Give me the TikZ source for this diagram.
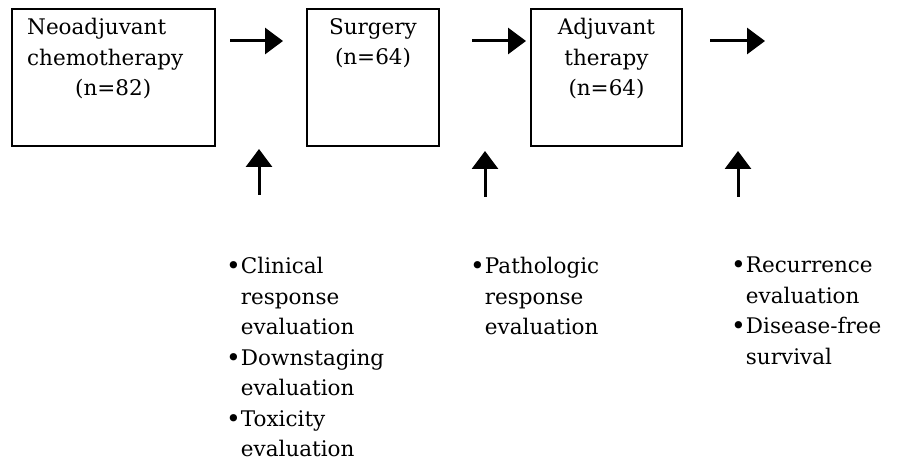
\documentclass[tikz,border=0pt]{standalone}
\usepackage{fontspec}
\setmainfont{DejaVu Serif}
\usetikzlibrary{arrows.meta,calc}
\newcommand{\itemdot}{{\fontsize{25}{30.5}\selectfont\raisebox{-1.3pt}{\textbullet}}}

\begin{document}
\begin{tikzpicture}[x=1pt,y=-1pt,
    stage/.style={draw, line width=2pt, inner sep=0pt, anchor=north west, minimum height=137pt},
    txt/.style={inner sep=0pt, font=\fontsize{21.5}{30.5}\selectfont},
    flow/.style={line width=3pt, -{Triangle[length=18pt,width=26pt]}}]
  \useasboundingbox (0,0) rectangle (899,465);
  % boxes
  \node[stage, minimum width=203pt] (neo) at (11,8) {};
  \node[stage, minimum width=132pt] (surg) at (306,8) {};
  \node[stage, minimum width=151pt] (adj) at (530,8) {};
  \node[txt, anchor=north west, align=left] (neotxt) at ($(neo.north west)+(16,10)$) {Neoadjuvant\\chemotherapy\\\hspace*{48pt}(n=82)};
  \node[txt, anchor=north, align=center] (surgtxt) at ($(surg.north)+(0,10)$) {Surgery\\(n=64)};
  \node[txt, anchor=north, align=center] (adjtxt) at ($(adj.north)+(0,10)$) {Adjuvant\\therapy\\(n=64)};
  % evaluations
  \node[txt, anchor=north west] (clin) at (226,252) {\begin{tabular}{@{}l@{}l@{}}
    \itemdot&Clinical\\&response\\&evaluation\\
    \itemdot&Downstaging\\&evaluation\\
    \itemdot&Toxicity\\&evaluation\end{tabular}};
  \node[txt, anchor=north west] (path) at (470,252) {\begin{tabular}{@{}l@{}l@{}}
    \itemdot&Pathologic\\&response\\&evaluation\end{tabular}};
  \node[txt, anchor=north west] (recur) at (731,251) {\begin{tabular}{@{}l@{}l@{}}
    \itemdot&Recurrence\\&evaluation\\
    \itemdot&Disease-free\\&survival\end{tabular}};
  % arrows
  \draw[flow] ($(neo.north east)+(14,33)$) -- ($(surg.north west)+(-23,33)$);
  \draw[flow] ($(surg.north east)+(32,33)$) -- ($(adj.north west)+(-4,33)$);
  \coordinate (out) at ($(adj.north east)+(82,33)$);
  \draw[flow] ($(adj.north east)+(27,33)$) -- (out);
  \coordinate (up1) at (259,195);
  \coordinate (up2) at (485,197);
  \coordinate (up3) at (738,197);
  \draw[flow, shorten >=2pt] (up1) -- (up1 |- neo.south);
  \draw[flow, shorten >=4pt] (up2) -- (up2 |- surg.south);
  \draw[flow, shorten >=4pt] (up3) -- (up3 |- adj.south);
\end{tikzpicture}
\end{document}
